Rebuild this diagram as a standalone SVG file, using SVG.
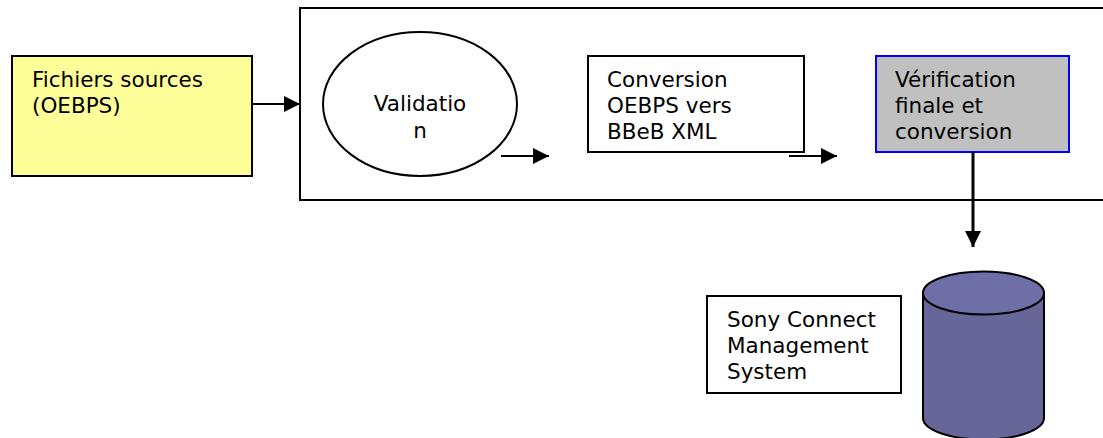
<svg xmlns="http://www.w3.org/2000/svg" width="1103" height="438" viewBox="0 0 1103 438">
<defs>
<style>
text{font-family:"DejaVu Sans","Verdana",sans-serif;font-size:21.5px;fill:#000}
.box{stroke:#000;stroke-width:2}
.line{stroke:#000;stroke-width:2;fill:none}
</style>
<marker id="ah" markerWidth="16" markerHeight="16" refX="16" refY="8" orient="auto" markerUnits="userSpaceOnUse">
<path d="M0,0 L16,8 L0,16 Z" fill="#000"/>
</marker>
</defs>
<rect width="1103" height="438" fill="#fff"/>
<g id="container"><rect class="box" x="300" y="8" width="810" height="192" fill="none"/></g>
<g id="sources">
<rect class="box" x="12" y="56" width="240" height="120" fill="#FFFF99"/>
<text x="32" y="87">Fichiers sources</text>
<text x="32" y="113">(OEBPS)</text>
</g>
<g id="validation">
<ellipse class="box" cx="420" cy="104" rx="97" ry="72" fill="#fff"/>
<text x="420" y="111" text-anchor="middle">Validatio</text>
<text x="420" y="138" text-anchor="middle">n</text>
</g>
<g id="conversion">
<rect class="box" x="588" y="56" width="216" height="96" fill="#fff"/>
<text x="607" y="87">Conversion</text>
<text x="607" y="113">OEBPS vers</text>
<text x="607" y="139">BBeB XML</text>
</g>
<g id="verification">
<rect x="876" y="56" width="193" height="96" fill="#C0C0C0" stroke="#0000FF" stroke-width="2"/>
<text x="895" y="87">Vérification</text>
<text x="895" y="113">finale et</text>
<text x="895" y="139">conversion</text>
</g>
<g id="sony">
<rect class="box" x="707" y="296" width="194" height="97" fill="#fff"/>
<text x="727" y="327">Sony Connect</text>
<text x="727" y="353">Management</text>
<text x="727" y="379">System</text>
</g>
<g id="database">
<path class="box" d="M923,293 L923,418 A60.5,21.5 0 0 0 1044,418 L1044,293" fill="#666699"/>
<ellipse class="box" cx="983.5" cy="293" rx="60.5" ry="21.5" fill="#6F6FA8"/>
</g>
<g id="connectors">
<line class="line" x1="252" y1="104" x2="300" y2="104" marker-end="url(#ah)"/>
<line class="line" x1="501" y1="156" x2="549" y2="156" marker-end="url(#ah)"/>
<line class="line" x1="789" y1="156" x2="837" y2="156" marker-end="url(#ah)"/>
<line x1="973" y1="152" x2="973" y2="247" stroke="#000" stroke-width="3" marker-end="url(#ah)"/>
</g>
</svg>
